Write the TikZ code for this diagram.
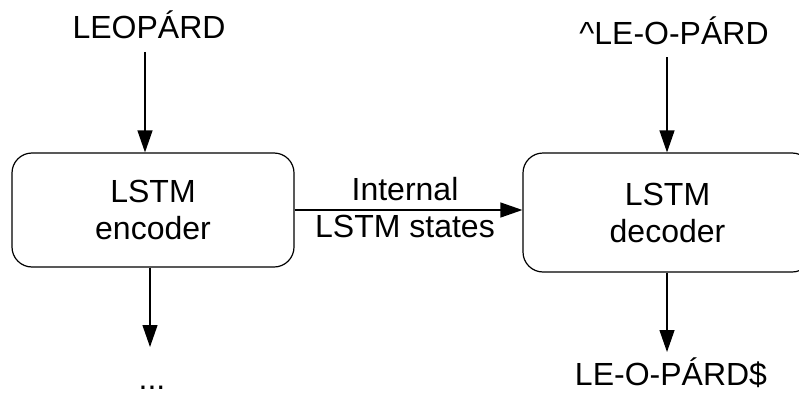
\documentclass[tikz,border=0pt]{standalone}
\usepackage{fontspec}
\setmainfont{Liberation Sans}
\usetikzlibrary{arrows.meta}

\begin{document}
\begin{tikzpicture}[x=1pt, y=-1pt,
  line width=1.2pt,
  every node/.style={font=\fontsize{32}{37}\selectfont, inner sep=0pt},
  lstmbox/.style={draw, rounded corners=20pt, align=center},
  flow/.style={-{Triangle[length=22pt, width=15pt]}},
  word/.style={anchor=base}
]
  \useasboundingbox (0,0) rectangle (799,396);

  % the two LSTM blocks
  \node[lstmbox, minimum width=282pt, minimum height=114pt] (enc) at (153,210) {LSTM\\encoder};
  \node[lstmbox, minimum width=289pt, minimum height=119pt] (dec) at (667.5,212.5) {LSTM\\decoder};

  % input and output strings
  \node[word] (inenc)  at (149,39)  {LEOPÁRD};
  \node[word] (indec)  at (674,45)  {\textasciicircum LE-O-PÁRD};
  \node[word] (outenc) at (152,389) {...};
  \node[word] (outdec) at (671,385) {LE-O-PÁRD\$};

  % arrow end points beside the strings
  \coordinate (a1) at (145,52);
  \coordinate (a2) at (150,347);
  \coordinate (b1) at (667,57);
  \coordinate (b2) at (667,352);

  \draw[flow] (a1) -- (a1 |- enc.north);
  \draw[flow] (a2 |- enc.south) -- (a2);
  \draw[flow] (b1) -- (b1 |- dec.north);
  \draw[flow] (b2 |- dec.south) -- (b2);

  % states passed from encoder to decoder
  \draw[flow] (enc.east) -- (enc.east -| dec.west);
  \node[align=center] (states) at (405,208) {Internal\\LSTM states};
\end{tikzpicture}
\end{document}
